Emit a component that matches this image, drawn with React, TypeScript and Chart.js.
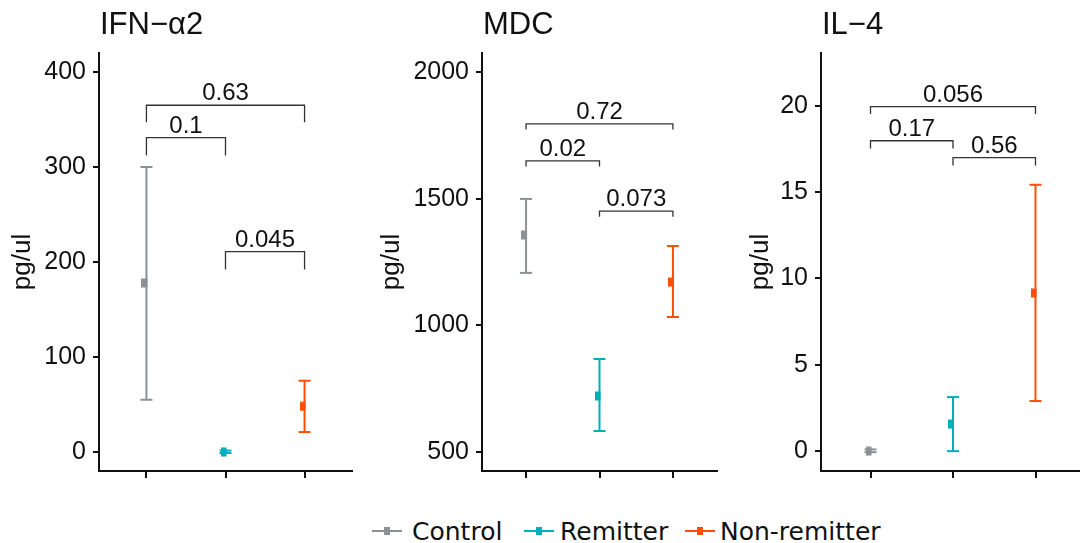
import React, { useEffect, useRef } from 'react';
import { Chart, registerables } from 'chart.js';

Chart.register(...registerables);

// ---------- data ----------
const groups = ['Control', 'Remitter', 'Non-remitter'];
const groupColors = ['#8C9196', '#00AFBB', '#FC4E07'];
const yAxisTitle = 'pg/ul';

// IFN−α2
const ifnTitle = 'IFN−α2';
const ifnMean = [178, 0, 48];
const ifnLow = [55, -1, 21];
const ifnHigh = [300, 1.5, 75];
const ifnTicks = [0, 100, 200, 300, 400];
const ifnRange = [-20, 420];
const ifnBracketPairs = [[1, 3], [1, 2], [2, 3]];
const ifnBracketY = [365, 331, 211];
const ifnBracketTip = [18, 19, 19];
const ifnPValues = ['0.63', '0.1', '0.045'];

// MDC
const mdcTitle = 'MDC';
const mdcMean = [1357, 721, 1171];
const mdcLow = [1207, 583, 1033];
const mdcHigh = [1499, 867, 1313];
const mdcTicks = [500, 1000, 1500, 2000];
const mdcRange = [425, 2075];
const mdcBracketPairs = [[1, 3], [1, 2], [2, 3]];
const mdcBracketY = [1795, 1649, 1451];
const mdcBracketTip = [22, 22, 22];
const mdcPValues = ['0.72', '0.02', '0.073'];

// IL−4
const il4Title = 'IL−4';
const il4Mean = [0, 1.57, 9.16];
const il4Low = [-0.06, 0, 2.9];
const il4High = [0.1, 3.13, 15.42];
const il4Ticks = [0, 5, 10, 15, 20];
const il4Range = [-1.15, 23.05];
const il4BracketPairs = [[1, 3], [1, 2], [2, 3]];
const il4BracketY = [19.94, 17.97, 16.99];
const il4BracketTip = [0.42, 0.45, 0.45];
const il4PValues = ['0.056', '0.17', '0.56'];

const FONT = '"Liberation Sans", Arial, Helvetica, sans-serif';
const LEGEND_FONT = '"DejaVu Sans", Verdana, sans-serif';

type Panel = {
  title: string;
  mean: number[];
  low: number[];
  high: number[];
  ticks: number[];
  range: number[];
  pairs: number[][];
  by: number[];
  tip: number[];
  pv: string[];
  // layout
  left: number;
  width: number;
  padL: number;
  yW: number;
  padR: number;
};

const panels: Panel[] = [
  { title: ifnTitle, mean: ifnMean, low: ifnLow, high: ifnHigh, ticks: ifnTicks, range: ifnRange, pairs: ifnBracketPairs, by: ifnBracketY, tip: ifnBracketTip, pv: ifnPValues, left: 0, width: 360, padL: 7, yW: 92, padR: 5 },
  { title: mdcTitle, mean: mdcMean, low: mdcLow, high: mdcHigh, ticks: mdcTicks, range: mdcRange, pairs: mdcBracketPairs, by: mdcBracketY, tip: mdcBracketTip, pv: mdcPValues, left: 360, width: 365, padL: 16, yW: 106, padR: 3 },
  { title: il4Title, mean: il4Mean, low: il4Low, high: il4High, ticks: il4Ticks, range: il4Range, pairs: il4BracketPairs, by: il4BracketY, tip: il4BracketTip, pv: il4PValues, left: 720, width: 373, padL: 25, yW: 76, padR: 3 },
];

const CANVAS_H = 493;

function meanMarker(color: string) {
  const c = document.createElement('canvas');
  c.width = 10;
  c.height = 10;
  const ctx = c.getContext('2d')!;
  ctx.fillStyle = color;
  ctx.fillRect(0, 0.5, 6, 9);
  return c;
}

function PanelChart({ p }: { p: Panel }) {
  const ref = useRef<HTMLCanvasElement | null>(null);
  useEffect(() => {
    if (!ref.current) return;
    const datasets: any[] = [];
    groups.forEach((g, i) => {
      datasets.push({
        type: 'line',
        label: g + ' range',
        data: [
          { x: i + 1, y: p.low[i] },
          { x: i + 1, y: p.high[i] },
        ],
        borderColor: groupColors[i],
        borderWidth: 2,
        showLine: true,
        pointStyle: 'line',
        pointRadius: 6,
        pointBorderWidth: 2,
        pointBorderColor: groupColors[i],
        pointBackgroundColor: groupColors[i],
        clip: false,
      });
      datasets.push({
        type: 'scatter',
        label: g,
        data: [{ x: i + 1, y: p.mean[i] }],
        pointStyle: meanMarker(groupColors[i]),
        clip: false,
      });
    });

    const annot = {
      id: 'annot',
      afterDatasetsDraw(chart: any) {
        const ctx = chart.ctx;
        const xs = chart.scales.x;
        const ys = chart.scales.y;
        ctx.save();
        // title
        ctx.fillStyle = '#111';
        ctx.font = `31px ${FONT}`;
        ctx.textAlign = 'left';
        ctx.textBaseline = 'alphabetic';
        ctx.fillText(p.title, chart.chartArea.left + 1, 34);
        // brackets
        ctx.strokeStyle = '#333';
        ctx.lineWidth = 1.3;
        ctx.font = `24px ${FONT}`;
        ctx.textAlign = 'center';
        p.pairs.forEach((pr, k) => {
          const x1 = xs.getPixelForValue(pr[0]);
          const x2 = xs.getPixelForValue(pr[1]);
          const yb = ys.getPixelForValue(p.by[k]);
          const yt = ys.getPixelForValue(p.by[k] - p.tip[k]);
          ctx.beginPath();
          ctx.moveTo(x1, yt);
          ctx.lineTo(x1, yb);
          ctx.lineTo(x2, yb);
          ctx.lineTo(x2, yt);
          ctx.stroke();
          ctx.fillStyle = '#111';
          ctx.fillText(p.pv[k], (x1 + x2) / 2, yb - 5);
        });
        ctx.restore();
      },
    };

    const chart = new Chart(ref.current, {
      type: 'line',
      data: { datasets },
      options: {
        responsive: false,
        animation: false,
        layout: { padding: { top: 53, bottom: 4, left: p.padL, right: p.padR } },
        plugins: { legend: { display: false }, tooltip: { enabled: false } },
        events: [],
        scales: {
          x: {
            type: 'linear',
            min: 0.4,
            max: 3.6,
            afterBuildTicks: (s: any) => {
              s.ticks = [1, 2, 3].map((v) => ({ value: v }));
            },
            afterFit: (s: any) => {
              s.height = 12;
            },
            ticks: { display: false },
            grid: { drawOnChartArea: false, drawTicks: true, tickLength: 7, color: '#111', lineWidth: 2 },
            border: { display: true, color: '#111', width: 2 },
          },
          y: {
            type: 'linear',
            min: p.range[0],
            max: p.range[1],
            afterBuildTicks: (s: any) => {
              s.ticks = p.ticks.map((v) => ({ value: v }));
            },
            afterFit: (s: any) => {
              s.width = p.yW;
            },
            ticks: {
              font: { family: FONT, size: 25 },
              color: '#111',
              padding: 7,
              callback: (v: any) => String(v),
            },
            grid: { drawOnChartArea: false, drawTicks: true, tickLength: 6, color: '#111', lineWidth: 2 },
            border: { display: true, color: '#111', width: 2 },
            title: { display: true, text: yAxisTitle, font: { family: FONT, size: 26 }, color: '#111', padding: 0 },
          },
        },
      },
      plugins: [annot],
    } as any);
    return () => chart.destroy();
  }, [p]);
  return (
    <canvas
      ref={ref}
      width={p.width}
      height={CANVAS_H}
      style={{ position: 'absolute', left: p.left, top: 0, width: p.width, height: CANVAS_H }}
    />
  );
}

const legendMarkerX = [372, 524, 685];
const legendTextX = [412, 560, 720];

export default function App() {
  return (
    <div
      style={{
        position: 'fixed',
        left: 0,
        top: 0,
        width: 1080,
        height: 543,
        overflow: 'hidden',
        background: '#fff',
      }}
    >
      {panels.map((p, i) => (
        <PanelChart key={i} p={p} />
      ))}
      {groups.map((g, i) => (
        <React.Fragment key={g}>
          <div style={{ position: 'absolute', left: legendMarkerX[i], top: 521, width: 30, height: 20 }}>
            <div style={{ position: 'absolute', left: 0, top: 9, width: 30, height: 2, background: groupColors[i] }} />
            <div style={{ position: 'absolute', left: 12, top: 6, width: 6, height: 8, background: groupColors[i] }} />
          </div>
          <div
            style={{
              position: 'absolute',
              left: legendTextX[i],
              top: 519,
              fontFamily: LEGEND_FONT,
              fontSize: 25,
              lineHeight: '25px',
              color: '#111',
              whiteSpace: 'nowrap',
            }}
          >
            {g}
          </div>
        </React.Fragment>
      ))}
    </div>
  );
}
